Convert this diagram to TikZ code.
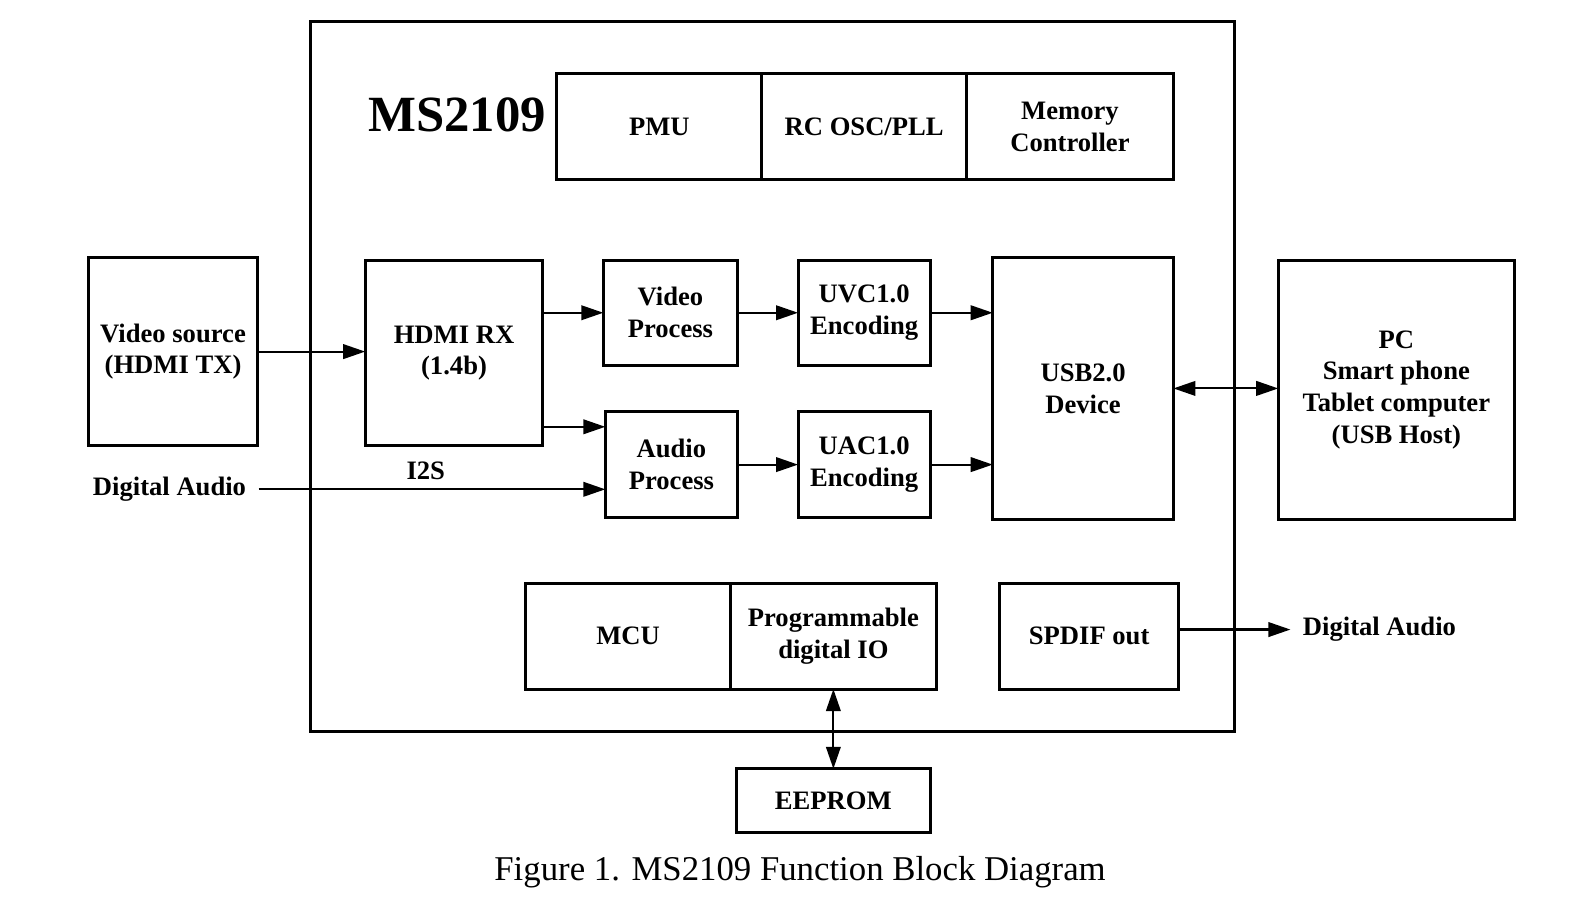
\documentclass[tikz,border=0pt]{standalone}
\usepackage{fontspec}
\setmainfont{Liberation Serif}
\usetikzlibrary{arrows,shapes,arrows.meta}

\begin{document}
\begin{tikzpicture}[x=0.01cm,y=-0.01cm,>={Triangle[length=6.2pt,width=4.1pt]}]
            \useasboundingbox (0,0) rectangle (1568,904);

            \begin{scope}[every node/.style={rectangle,draw,line width=0.85pt,outer sep=0pt,align=center,
                          font=\bfseries\fontsize{7.5}{9}\selectfont}]
                \node (chip) [minimum width=9.15cm,minimum height=7.03cm] at (765.5,373.5) {};
                \node (pmu) [minimum width=2.03cm,minimum height=1.05cm] at (653.5,125.5) {PMU};
                \node (osc) [minimum width=2.03cm,minimum height=1.05cm] at (856.5,125.5) {RC OSC/PLL};
                \node (mem) [minimum width=2.05cm,minimum height=1.05cm] at (1060.5,125.5) {Memory\\Controller};
                \node (vsrc) [minimum width=1.67cm,minimum height=1.87cm] at (171.5,348.5) {Video source\\(HDMI TX)};
                \node (hdmi) [minimum width=1.76cm,minimum height=1.84cm] at (450,350) {HDMI RX\\(1.4b)};
                \node (vproc) [minimum width=1.33cm,minimum height=1.04cm] at (664.5,310) {Video\\Process};
                \node (uvc) [minimum width=1.31cm,minimum height=1.04cm] at (856.5,310) {UVC1.0\\Encoding};
                \node (aproc) [minimum width=1.31cm,minimum height=1.05cm] at (665.5,460.5) {Audio\\Process};
                \node (uac) [minimum width=1.31cm,minimum height=1.05cm] at (856.5,460.5) {UAC1.0\\Encoding};
                \node (usb) [minimum width=1.79cm,minimum height=2.60cm] at (1073.5,385) {USB2.0\\Device};
                \node (pc) [minimum width=2.34cm,minimum height=2.57cm] at (1384,386.5) {PC\\Smart phone\\Tablet computer\\(USB Host)};
                \node (mcu) [minimum width=2.03cm,minimum height=1.05cm] at (622.5,630.5) {MCU};
                \node (pio) [minimum width=2.04cm,minimum height=1.05cm] at (826,630.5) {Programmable\\digital IO};
                \node (spdif) [minimum width=1.77cm,minimum height=1.05cm] at (1079.5,630.5) {SPDIF out};
                \node (eeprom) [minimum width=1.92cm,minimum height=0.63cm] at (826,793.5) {EEPROM};
            \end{scope}

            \begin{scope}[every node/.style={font=\bfseries\fontsize{7.5}{9}\selectfont}]
                \node (title) [font=\bfseries\fontsize{14.3}{16}\selectfont] at (453,114) {MS2109};
                \node (dain) at (168,485) {Digital Audio};
                \node (i2s) at (422,467) {I2S};
                \node (daout) [anchor=west] at (1279,624) {Digital Audio};
                \node (caption) [font=\fontsize{9.8}{12}\selectfont] at (793,864) {Figure 1. MS2109 Function Block Diagram};
            \end{scope}

            \begin{scope}[line width=0.6pt]
                \path [->] (vsrc.east) edge (vsrc.east -| hdmi.west);
                \path [->] (hdmi.east |- vproc.west) edge (vproc.west);
                \path [->] ([yshift=0.19cm]hdmi.south east) edge ([yshift=0.19cm]hdmi.south east -| aproc.west);
                \path [->] (dain.east) edge (dain.east -| aproc.west);
                \path [->] (vproc.east) edge (uvc.west);
                \path [->] (uvc.east) edge (uvc.east -| usb.west);
                \path [->] (aproc.east) edge (uac.west);
                \path [->] (uac.east) edge (uac.east -| usb.west);
                \path [<->] (usb.east) edge (usb.east -| pc.west);
                \path [->] (spdif.east |- daout.west) edge (daout.west);
                \path [<->] (pio.south) edge (eeprom.north);
            \end{scope}
            \end{tikzpicture}
\end{document}
